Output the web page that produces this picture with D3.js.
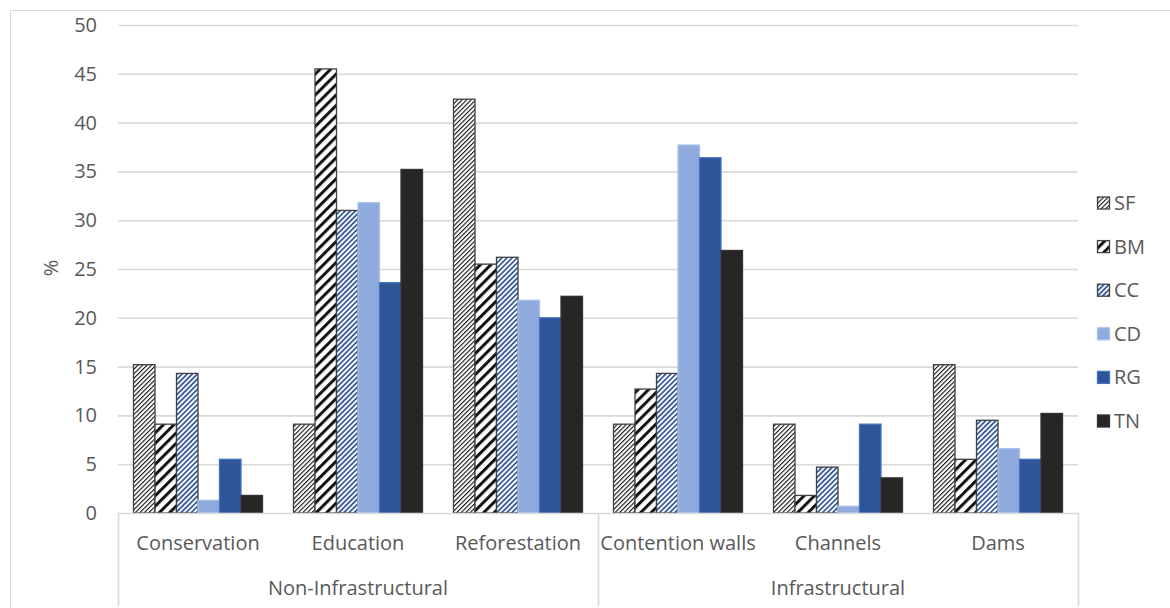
<!DOCTYPE html>
<html>
<head>
<meta charset="utf-8">
<script src="https://cdn.jsdelivr.net/npm/d3@7"></script>
<style>
  html, body { margin: 0; padding: 0; background: #fff; }
  svg { display: block; }
  text { font-family: "Open Sans", "DejaVu Sans", sans-serif; fill: #595959; }
</style>
</head>
<body>
<svg id="chart" width="1170" height="608"></svg>
<script>
// Measures, grouped by type
const categories = ["Conservation", "Education", "Reforestation", "Contention walls", "Channels", "Dams"];
const groups = [
  { name: "Non-Infrastructural", members: ["Conservation", "Education", "Reforestation"] },
  { name: "Infrastructural", members: ["Contention walls", "Channels", "Dams"] }
];
const series = ["SF", "BM", "CC", "CD", "RG", "TN"];

// Percentage per series, in category order
const SF = [15.2, 9.1, 42.4, 9.1, 9.1, 15.2];
const BM = [9.1, 45.5, 25.5, 12.7, 1.8, 5.5];
const CC = [14.3, 31.0, 26.2, 14.3, 4.7, 9.5];
const CD = [1.3, 31.8, 21.8, 37.7, 0.7, 6.6];
const RG = [5.5, 23.6, 20.0, 36.4, 9.1, 5.5];
const TN = [1.8, 35.2, 22.2, 26.9, 3.6, 10.2];
const values = { SF, BM, CC, CD, RG, TN };

const yTicks = [0, 5, 10, 15, 20, 25, 30, 35, 40, 45, 50];

const svg = d3.select("#chart");
const plotLeft = 118, plotRight = 1078, plotTop = 25, plotBottom = 513;
const grid = "#D9D9D9";
const fontSize = "20px";

// Hatch patterns for the first three series
const defs = svg.append("defs");
function hatch(id, period, stripe, color) {
  const p = defs.append("pattern")
    .attr("id", id)
    .attr("patternUnits", "userSpaceOnUse")
    .attr("width", period).attr("height", period)
    .attr("patternTransform", "rotate(45)");
  p.append("rect").attr("width", period).attr("height", period).attr("fill", "#fff");
  p.append("rect").attr("width", stripe).attr("height", period).attr("fill", color);
}
hatch("pSF", 3.2, 1.1, "#111");
hatch("pBM", 7.4, 3.0, "#111");
hatch("pCC", 3.6, 1.7, "#2F5597");

const style = {
  SF: { fill: "url(#pSF)", stroke: "#404040" },
  BM: { fill: "url(#pBM)", stroke: "#404040" },
  CC: { fill: "url(#pCC)", stroke: "#404040" },
  CD: { fill: "#8FAADC", stroke: "#A9C2E8" },
  RG: { fill: "#2F5597", stroke: "#4472C4" },
  TN: { fill: "#262626", stroke: "#333333" }
};

// Outer chart frame
svg.append("rect")
  .attr("x", 10.5).attr("y", 10.5)
  .attr("width", 1200).attr("height", 700)
  .attr("fill", "none").attr("stroke", grid).attr("stroke-width", 1);

const x = d3.scaleBand().domain(categories).range([plotLeft, plotRight]);
const xs = d3.scaleBand().domain(series).range([15.5, x.bandwidth() - 15.5]);
const y = d3.scaleLinear().domain([0, 50]).range([plotBottom, plotTop]);

// Gridlines
svg.append("g").selectAll("line").data(yTicks.filter(t => t > 0)).join("line")
  .attr("x1", plotLeft).attr("x2", plotRight)
  .attr("y1", d => y(d) + 0.5).attr("y2", d => y(d) + 0.5)
  .attr("stroke", grid).attr("stroke-width", 1.6);

// Y axis labels
const yAxis = svg.append("g")
  .attr("transform", `translate(${plotLeft},0)`)
  .call(d3.axisLeft(y).tickValues(yTicks).tickSize(0).tickPadding(21));
yAxis.select(".domain").remove();
yAxis.selectAll("text")
  .style("font-size", fontSize)
  .attr("fill", "#595959")
  .style("font-family", '"Open Sans", sans-serif');

svg.append("text")
  .attr("transform", "translate(58,268) rotate(-90)")
  .attr("text-anchor", "middle")
  .style("font-size", fontSize)
  .text("%");

// Bars
const barG = svg.append("g");
series.forEach(s => {
  barG.append("g").selectAll("rect")
    .data(categories.map((c, i) => ({ c, v: values[s][i] })))
    .join("rect")
    .attr("x", d => x(d.c) + xs(s))
    .attr("y", d => y(d.v))
    .attr("width", xs.bandwidth())
    .attr("height", d => y(0) - y(d.v))
    .attr("fill", style[s].fill)
    .attr("stroke", style[s].stroke)
    .attr("stroke-width", 1.3);
});

// Category axis with group dividers
svg.append("line")
  .attr("x1", plotLeft).attr("x2", plotRight)
  .attr("y1", plotBottom + 0.5).attr("y2", plotBottom + 0.5)
  .attr("stroke", grid).attr("stroke-width", 1.6);

const dividers = [plotLeft];
groups.forEach(g => dividers.push(x(g.members[g.members.length - 1]) + x.bandwidth()));
svg.append("g").selectAll("line").data(dividers).join("line")
  .attr("x1", d => d + 0.5).attr("x2", d => d + 0.5)
  .attr("y1", plotBottom).attr("y2", 606)
  .attr("stroke", grid).attr("stroke-width", 1.6);

svg.append("g").selectAll("text").data(categories).join("text")
  .attr("x", d => x(d) + x.bandwidth() / 2)
  .attr("y", 550)
  .attr("text-anchor", "middle")
  .style("font-size", fontSize)
  .text(d => d);

svg.append("g").selectAll("text").data(groups).join("text")
  .attr("x", g => (x(g.members[0]) + x(g.members[g.members.length - 1]) + x.bandwidth()) / 2)
  .attr("y", 595)
  .attr("text-anchor", "middle")
  .style("font-size", fontSize)
  .text(g => g.name);

// Legend
const legend = svg.append("g").selectAll("g").data(series).join("g")
  .attr("transform", (d, i) => `translate(1097,${203 + i * 43.6})`);
legend.append("rect")
  .attr("x", 0.5).attr("y", -6)
  .attr("width", 12).attr("height", 12)
  .attr("fill", d => style[d].fill)
  .attr("stroke", d => style[d].stroke)
  .attr("stroke-width", 1.3);
legend.append("text")
  .attr("x", 17).attr("y", 0)
  .attr("dy", "0.35em")
  .style("font-size", fontSize)
  .text(d => d);
</script>
</body>
</html>
